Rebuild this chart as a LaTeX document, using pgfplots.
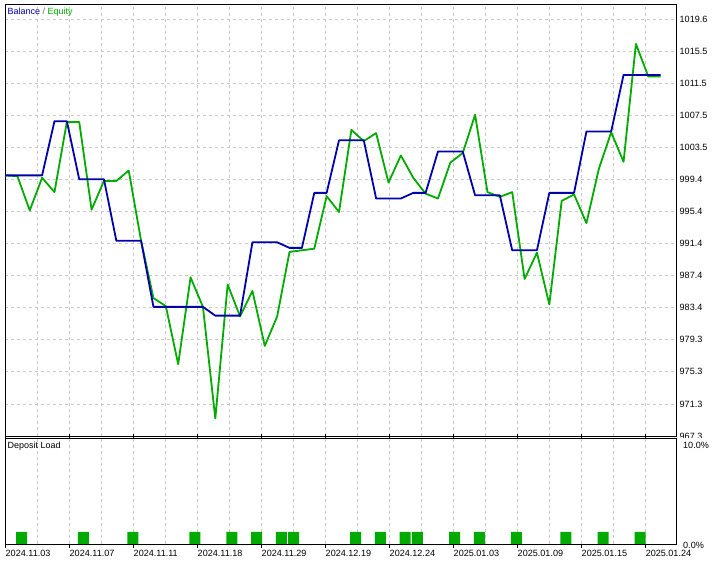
\documentclass[border=0pt]{standalone}
\usepackage{pgfplots}
\pgfplotsset{compat=1.18}
\usepackage{fontspec}
\setmainfont{Liberation Sans}
\definecolor{bal}{RGB}{0,0,170}
\definecolor{eq}{RGB}{0,170,0}
\definecolor{gridc}{RGB}{200,200,200}
\pgfplotsset{
  mtgrid/.style={dash pattern=on 3bp off 3bp, color=gridc, line width=0.8bp},
}
\begin{document}
\begin{tikzpicture}
\useasboundingbox (0,0) rectangle (720bp,561bp);
% ---------------- main panel ----------------
\begin{axis}[
  at={(5bp,125bp)}, anchor=south west, scale only axis,
  width=671bp, height=432bp,
  xmin=0, xmax=54.24, ymin=967.3, ymax=1021.5,
  xtick={0,2.587,5.174,7.761,10.348,12.935,15.521,18.108,20.695,23.282,25.869,28.456,31.043,33.630,36.217,38.804,41.390,43.977,46.564,49.151,51.738},
  xticklabels={},
  ytick={967.3,971.323,975.346,979.369,983.392,987.415,991.438,995.462,999.485,1003.508,1007.531,1011.554,1015.577,1019.6},
  yticklabels={967.3,971.3,975.3,979.3,983.4,987.4,991.4,995.4,999.4,1003.5,1007.5,1011.5,1015.5,1019.6},
  yticklabel pos=right,
  yticklabel style={anchor=west, inner sep=0pt, xshift=3.5bp, font=\fontsize{9.1}{10}\selectfont},
  tick style={draw=none}, major tick length=0pt,
  xmajorgrids, ymajorgrids, grid style={mtgrid},
  axis line style={black, line width=0.9bp},
  clip=true,
]
\addplot[eq, line width=1.8bp, line join=round] coordinates {
(0,1000.0) (1,999.9) (2,995.6) (3,999.7) (4,997.9) (5,1006.7) (6,1006.7) (7,995.7) (8,999.3) (9,999.3)
(10,1000.6) (11,991.8) (12,984.6) (13,983.6) (14,976.3) (15,987.2) (16,983.5) (17,969.5) (18,986.3) (19,982.3)
(20,985.5) (21,978.6) (22,982.3) (23,990.4) (24,990.6) (25,990.8) (26,997.4) (27,995.4) (28,1005.7) (29,1004.3)
(30,1005.3) (31,999.1) (32,1002.5) (33,999.7) (34,997.7) (35,997.1) (36,1001.6) (37,1002.8) (38,1007.6) (39,997.9)
(40,997.3) (41,997.9) (42,987.0) (43,990.3) (44,983.8) (45,996.8) (46,997.6) (47,994.0) (48,1000.8) (49,1005.4)
(50,1001.7) (51,1016.5) (52,1012.4) (53,1012.4)
};
\addplot[bal, line width=1.8bp, line join=round] coordinates {
(0,1000.0) (3,1000.0) (4,1006.8) (5,1006.8) (6,999.5) (8,999.5) (9,991.8) (11,991.8) (12,983.5) (16,983.5)
(17,982.4) (19,982.4) (20,991.6) (22,991.6) (23,990.9) (24,990.9) (25,997.8) (26,997.8) (27,1004.4) (29,1004.4)
(30,997.1) (32,997.1) (33,997.8) (34,997.8) (35,1003.0) (37,1003.0) (38,997.5) (40,997.5) (41,990.6) (43,990.6)
(44,997.8) (46,997.8) (47,1005.5) (49,1005.5) (50,1012.6) (53,1012.6)
};
\end{axis}
\fill[white] (676.6bp,0) rectangle (720bp,123bp);
\node[anchor=west, inner sep=0pt, font=\fontsize{9}{10}\selectfont] at (7.5bp,548.5bp)
  {\textcolor{bal}{Balance}\ \textcolor{black!60}{/}\ \textcolor{eq}{Equity}};
% ---------------- deposit load panel ----------------
\begin{axis}[
  at={(5bp,17bp)}, anchor=south west, scale only axis,
  width=671bp, height=106bp,
  xmin=0, xmax=54.24, ymin=0, ymax=10.6,
  xtick={0,5.174,10.348,15.521,20.695,25.869,31.043,36.217,41.390,46.564,51.738},
  xticklabels={2024.11.03,2024.11.07,2024.11.11,2024.11.18,2024.11.29,2024.12.19,2024.12.24,2025.01.03,2025.01.09,2025.01.15,2025.01.24},
  minor xtick={2.587,7.761,12.935,18.108,23.282,28.456,33.630,38.804,43.977,49.151},
  xticklabel style={anchor=north west, inner sep=0pt, xshift=0.5bp, yshift=-2bp, font=\fontsize{9.1}{10}\selectfont},
  x tick style={black, line width=0.8bp}, tick align=outside,
  major tick length=3.5bp, minor tick length=0pt,
  ytick={0,10}, yticklabels={0.0\%,10.0\%},
  yticklabel pos=right, y tick style={draw=none},
  yticklabel style={anchor=west, inner sep=0pt, xshift=3.5bp, yshift=-1bp, font=\fontsize{9.1}{10}\selectfont},
  xmajorgrids, xminorgrids, ymajorgrids=false,
  major grid style={mtgrid}, minor grid style={mtgrid},
  axis line style={black, line width=0.9bp},
]
\addplot[ybar, bar width=0.89, fill=eq, draw=none] coordinates {
(1.34,1.2) (6.34,1.2) (10.34,1.2) (15.34,1.2) (18.34,1.2) (20.34,1.2) (22.34,1.2) (23.34,1.2) (28.34,1.2)
(30.34,1.2) (32.34,1.2) (33.34,1.2) (36.34,1.2) (38.34,1.2) (41.34,1.2) (45.34,1.2) (48.34,1.2) (51.34,1.2)
};
\end{axis}
\node[anchor=west, inner sep=0pt, font=\fontsize{9}{10}\selectfont] at (7.5bp,114.5bp) {Deposit Load};
\end{tikzpicture}
\end{document}
